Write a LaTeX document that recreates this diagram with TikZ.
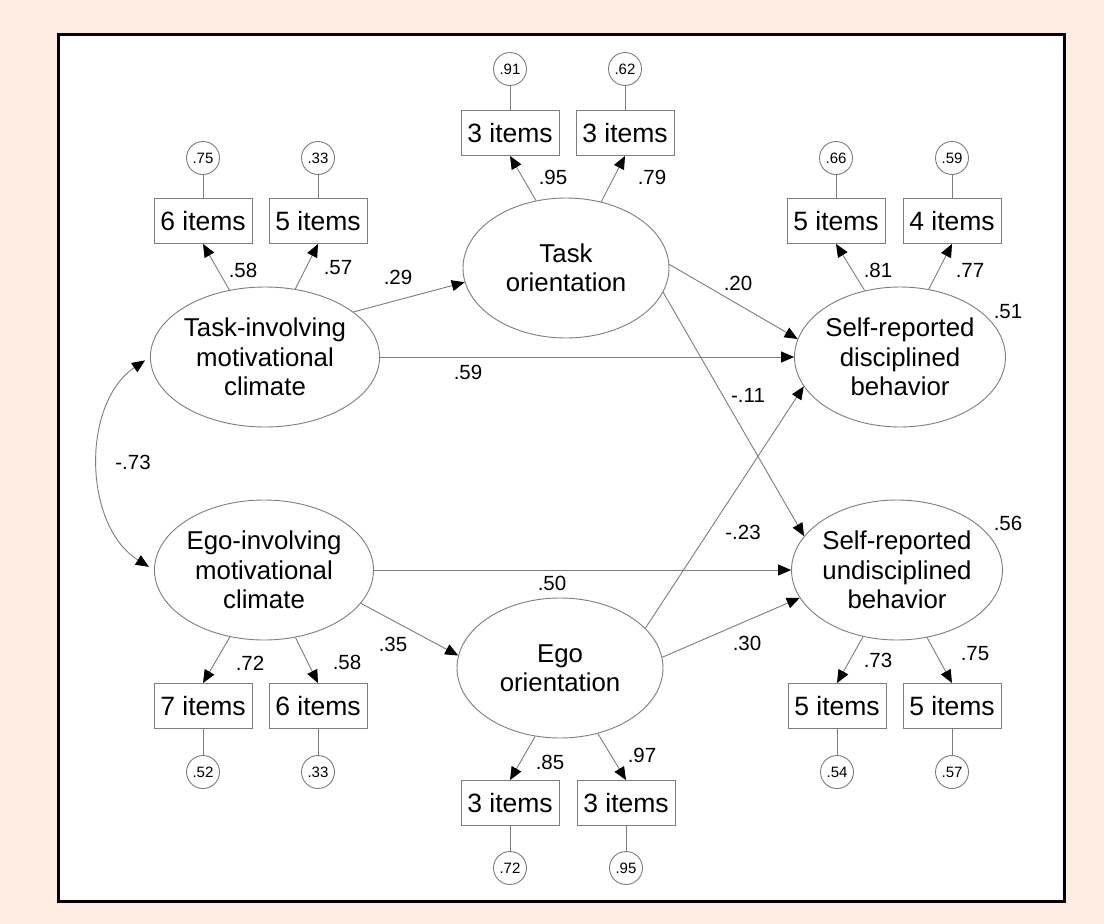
\documentclass[tikz,border=0pt]{standalone}
\usepackage{fontspec}
\setmainfont{Liberation Sans}
\usepackage{tikz}
\usetikzlibrary{arrows.meta,shapes.geometric}

\definecolor{peach}{RGB}{253,237,227}
\definecolor{linegray}{RGB}{125,125,125}

\tikzset{
  latent/.style={draw=linegray, line width=0.9pt, ellipse, minimum width=206pt, minimum height=140pt,
    inner sep=0pt, align=center, font=\fontsize{25.8}{29.5}\selectfont},
  itembox/.style={draw=linegray, line width=0.9pt, rectangle, minimum width=98pt, minimum height=45pt,
    inner sep=0pt, font=\fontsize{26.5}{29}\selectfont},
  errcirc/.style={draw=linegray, line width=0.9pt, circle, minimum size=33pt, inner sep=0pt,
    font=\fontsize{15}{16}\selectfont},
  coef/.style={inner sep=0pt, font=\fontsize{20.5}{22}\selectfont},
  link/.style={draw=linegray, line width=0.9pt},
  effect/.style={link, -{Triangle[length=13pt,width=11pt,color=black]}},
}

\begin{document}
\begin{tikzpicture}[x=1pt,y=-1pt]
  \fill[peach] (0,0) rectangle (1104,924);
  \draw[fill=white, line width=3pt] (58,34) rectangle (1064,901);

  % latent variables
  \node[latent] (taskclim) at (265,357) {Task-involving\\motivational\\climate};
  \node[latent] (egoclim) at (264,570) {Ego-involving\\motivational\\climate};
  \node[latent] (taskor) at (566,268) {Task\\orientation};
  \node[latent] (egoor) at (560,668) {Ego\\orientation};
  \node[latent] (disc) at (900,357) {Self-reported\\disciplined\\behavior};
  \node[latent] (undisc) at (897,570) {Self-reported\\undisciplined\\behavior};

  % indicators
  \node[itembox] (tc1) at (203,221) {6 items};
  \node[itembox] (tc2) at (318,221) {5 items};
  \node[itembox] (to1) at (510,133) {3 items};
  \node[itembox] (to2) at (625,133) {3 items};
  \node[itembox] (di1) at (836,221) {5 items};
  \node[itembox] (di2) at (952,221) {4 items};
  \node[itembox] (ec1) at (203,706) {7 items};
  \node[itembox] (ec2) at (318,706) {6 items};
  \node[itembox] (eo1) at (510,803) {3 items};
  \node[itembox] (eo2) at (626,803) {3 items};
  \node[itembox] (un1) at (837,706) {5 items};
  \node[itembox] (un2) at (952,706) {5 items};

  % errors
  \node[errcirc] (tc1e) at (203,158) {.75};
  \node[errcirc] (tc2e) at (318,158) {.33};
  \node[errcirc] (to1e) at (510,69) {.91};
  \node[errcirc] (to2e) at (625,69) {.62};
  \node[errcirc] (di1e) at (836,158) {.66};
  \node[errcirc] (di2e) at (952,158) {.59};
  \node[errcirc] (ec1e) at (203,772) {.52};
  \node[errcirc] (ec2e) at (318,772) {.33};
  \node[errcirc] (eo1e) at (510,868) {.72};
  \node[errcirc] (eo2e) at (626,868) {.95};
  \node[errcirc] (un1e) at (837,772) {.54};
  \node[errcirc] (un2e) at (952,772) {.57};

  \foreach \i in {tc1,tc2,to1,to2,di1,di2,ec1,ec2,eo1,eo2,un1,un2}
    \draw[link] (\i e) -- (\i);

  % loadings
  \draw[effect] (taskclim.118) -- (tc1.south);
  \draw[effect] (taskclim.66) -- (tc2.south);
  \draw[effect] (taskor.114) -- (to1.south);
  \draw[effect] (taskor.62) -- (to2.south);
  \draw[effect] (disc.118) -- (di1.south);
  \draw[effect] (disc.67) -- (di2.south);
  \draw[effect] (egoclim.243) -- (ec1.north);
  \draw[effect] (egoclim.295) -- (ec2.north);
  \draw[effect] (egoor.250) -- (eo1.north);
  \draw[effect] (egoor.300) -- (eo2.north);
  \draw[effect] (undisc.243) -- (un1.north);
  \draw[effect] (undisc.294) -- (un2.north);

  % structural paths
  \draw[effect] (taskclim.27) -- (taskor.188);
  \draw[effect] (taskclim.east) -- (disc.west);
  \draw[effect] (taskor.2) -- (disc.170);
  \draw[effect] (taskor.346) -- (undisc.160);
  \draw[effect] (egoclim.east) -- (undisc.west);
  \draw[effect] (egoclim.341) -- (egoor.173);
  \draw[effect] (egoor.25) -- (disc.197);
  \draw[effect] (egoor.6) -- (undisc.196);
  \draw[link, {Triangle[length=13pt,width=11pt,color=black]}-{Triangle[length=13pt,width=11pt,color=black]},
    shorten <=6pt, shorten >=6pt] (taskclim.west) to[bend right=57] (egoclim.west);

  % coefficients
  \node[coef] (c1) at (243,270) {.58};
  \node[coef] (c2) at (338,268) {.57};
  \node[coef] (c3) at (398,277) {.29};
  \node[coef] (c4) at (553,177) {.95};
  \node[coef] (c5) at (652,177) {.79};
  \node[coef] (c6) at (738,283) {.20};
  \node[coef] (c7) at (878,270) {.81};
  \node[coef] (c8) at (970,270) {.77};
  \node[coef] (c9) at (1008,312) {.51};
  \node[coef] (c10) at (468,372) {.59};
  \node[coef] (c11) at (748,395) {-.11};
  \node[coef] (c12) at (133,462) {-.73};
  \node[coef] (c13) at (743,532) {-.23};
  \node[coef] (c14) at (1008,523) {.56};
  \node[coef] (c15) at (552,583) {.50};
  \node[coef] (c16) at (393,644) {.35};
  \node[coef] (c17) at (747,643) {.30};
  \node[coef] (c18) at (250,663) {.72};
  \node[coef] (c19) at (347,662) {.58};
  \node[coef] (c20) at (550,762) {.85};
  \node[coef] (c21) at (642,755) {.97};
  \node[coef] (c22) at (878,660) {.73};
  \node[coef] (c23) at (975,654) {.75};
\end{tikzpicture}
\end{document}
